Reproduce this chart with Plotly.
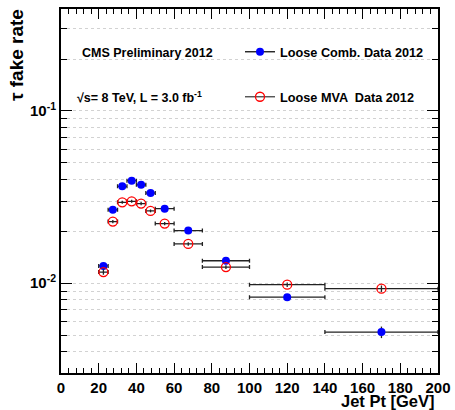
import plotly.graph_objects as go
import math

# ---- data ----
jet_pt = [22.5, 27.5, 32.5, 37.5, 42.5, 47.5, 55, 67.5, 87.5, 120, 170]
jet_pt_halfwidth = [2.5, 2.5, 2.5, 2.5, 2.5, 2.5, 5, 7.5, 12.5, 20, 30]
comb_rate = [0.0126, 0.0267, 0.0365, 0.0394, 0.0373, 0.0334, 0.0271, 0.0202, 0.0135, 0.0083, 0.0052]
comb_err = [0.0004, 0.0006, 0.0007, 0.0007, 0.0007, 0.0006, 0.0005, 0.0004, 0.0003, 0.0002, 0.0004]
mva_rate = [0.0116, 0.0228, 0.0295, 0.0299, 0.0290, 0.0263, 0.0222, 0.0169, 0.0124, 0.0098, 0.0093]
mva_err = [0.0004, 0.0005, 0.0006, 0.0006, 0.0006, 0.0005, 0.0005, 0.0004, 0.0003, 0.0003, 0.0004]
series_names = ["Loose Comb. Data 2012", "Loose MVA  Data 2012"]
x_ticks = [0, 20, 40, 60, 80, 100, 120, 140, 160, 180, 200]
y_major = [0.01, 0.1]
y_major_text = ["10<sup>-2</sup>", "10<sup>-1</sup>"]
y_minor = [0.003, 0.004, 0.005, 0.006, 0.007, 0.008, 0.009,
           0.02, 0.03, 0.04, 0.05, 0.06, 0.07, 0.08, 0.09,
           0.2, 0.3]

FONT = "Liberation Sans, Arial, Helvetica, sans-serif"
ERRC = "#222222"
GRID = "#d2d2d2"

fig = go.Figure()

fig.add_trace(go.Scatter(
    x=jet_pt, y=comb_rate, mode="markers", showlegend=False,
    marker=dict(symbol="circle", size=8, color="#0000ff"),
    error_x=dict(type="data", array=jet_pt_halfwidth, color=ERRC, thickness=1.3, width=2),
    error_y=dict(type="data", array=comb_err, color=ERRC, thickness=1.3, width=0),
))
fig.add_trace(go.Scatter(
    x=jet_pt, y=mva_rate, mode="markers", showlegend=False,
    marker=dict(symbol="circle-open", size=9, color="#ff0000", line=dict(width=1.3, color="#ff0000")),
    error_x=dict(type="data", array=jet_pt_halfwidth, color=ERRC, thickness=1.3, width=2),
    error_y=dict(type="data", array=mva_err, color=ERRC, thickness=1.3, width=0),
))

# legend entries
fig.add_trace(go.Scatter(
    x=[None], y=[None], mode="lines+markers", name="<b>" + series_names[0] + "</b>", legend="legend",
    marker=dict(symbol="circle", size=8, color="#0000ff"),
    line=dict(color="#111111", width=1.3),
))
fig.add_trace(go.Scatter(
    x=[None], y=[None], mode="lines+markers", name="<b>" + series_names[1] + "</b>", legend="legend2",
    marker=dict(symbol="circle-open", size=9, color="#ff0000", line=dict(width=1.3, color="#ff0000")),
    line=dict(color="#444444", width=1.3),
))

W, H = 455, 410
L, R, T, B = 61, 17, 9, 37
pw, ph = W - L - R, H - T - B


def px_x(x):
    return (x - L) / pw


def px_y(y):
    return (H - B - y) / ph


legend_font = dict(family=FONT, size=12.7, color="black")
tick_font = dict(family=FONT, size=15, color="black", weight="bold")

fig.update_layout(
    width=W, height=H,
    margin=dict(l=L, r=R, t=T, b=B, autoexpand=False),
    paper_bgcolor="white", plot_bgcolor="white",
    font=dict(family=FONT, color="black"),
    legend=dict(x=px_x(240), y=px_y(52), xanchor="left", yanchor="middle",
                bgcolor="rgba(0,0,0,0)", borderwidth=0, font=legend_font,
                itemwidth=30),
    legend2=dict(x=px_x(240), y=px_y(97), xanchor="left", yanchor="middle",
                 bgcolor="rgba(0,0,0,0)", borderwidth=0, font=legend_font,
                 itemwidth=30),
    xaxis=dict(
        range=[0, 200], tickmode="array", tickvals=x_ticks,
        ticks="inside", ticklen=10, tickwidth=1, tickcolor="black",
        showline=True, linewidth=2, linecolor="black", mirror="ticks",
        showgrid=False, zeroline=False, automargin=False,
        tickfont=tick_font,
        ticklabelstandoff=0,
        minor=dict(dtick=4, tick0=0, ticks="inside", ticklen=5, tickwidth=1,
                   tickcolor="black", showgrid=False),
    ),
    yaxis=dict(
        type="log", range=[math.log10(0.00301), math.log10(0.391)],
        tickmode="array", tickvals=y_major, ticktext=y_major_text,
        ticks="inside", ticklen=11, tickwidth=1, tickcolor="black",
        showline=True, linewidth=2, linecolor="black", mirror="ticks",
        showgrid=True, gridcolor=GRID, griddash="dot", gridwidth=1,
        zeroline=False, automargin=False,
        tickfont=tick_font,
        minor=dict(tickmode="array", tickvals=y_minor, ticks="inside", ticklen=6,
                   tickwidth=1, tickcolor="black", showgrid=True,
                   gridcolor=GRID, griddash="dot", gridwidth=1),
    ),
    annotations=[
        dict(text="<b>CMS Preliminary 2012</b>", xref="paper", yref="paper",
             x=px_x(80), y=px_y(53), xanchor="left", yanchor="middle",
             showarrow=False, font=dict(family=FONT, size=12.5)),
        dict(text="<b>√s= 8 TeV, L = 3.0 fb<sup>-1</sup></b>", xref="paper", yref="paper",
             x=px_x(75), y=px_y(97), xanchor="left", yanchor="middle",
             showarrow=False, font=dict(family=FONT, size=12.5)),
        dict(text="<b>τ fake rate</b>", xref="paper", yref="paper", textangle=-90,
             x=px_x(16), y=px_y(55), xanchor="center", yanchor="middle",
             showarrow=False, font=dict(family=FONT, size=19)),
        dict(text="<b>Jet Pt [GeV]</b>", xref="paper", yref="paper",
             x=px_x(437), y=px_y(401), xanchor="right", yanchor="middle",
             showarrow=False, font=dict(family=FONT, size=16.5)),
    ],
)

fig.write_html("out.html", post_script="document.body.style.margin='0';",
               config={"displayModeBar": False})
